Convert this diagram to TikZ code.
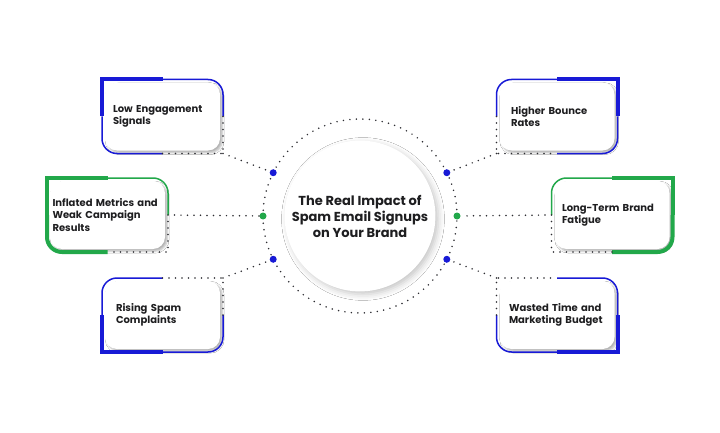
\documentclass[tikz,border=0pt]{standalone}
\usepackage{fontspec}
\setmainfont{Poppins}
\usepackage{tikz}
\usetikzlibrary{positioning,calc,shadows.blur}
\definecolor{brandblue}{RGB}{24,26,214}
\definecolor{brandgreen}{RGB}{34,168,74}
\definecolor{ink}{RGB}{30,30,32}
\definecolor{dotgrey}{RGB}{45,45,50}
\tikzset{
  card/.style={rectangle, rounded corners=12pt, fill=white,
    minimum width=115pt, minimum height=68pt, outer sep=3pt,
    inner xsep=4pt, align=left, text=ink,
    font=\bfseries\fontsize{10}{12.5}\selectfont,
    blur shadow={shadow xshift=2.2pt, shadow yshift=-2.2pt,
      shadow blur radius=2pt, shadow opacity=30}},
  thinrim/.style={line width=1.5pt, rounded corners=15pt},
  thickrim/.style={line width=4pt, line join=miter},
  thickround/.style={line width=4pt, rounded corners=15pt},
  dotline/.style={dotgrey, line width=1.7pt, line cap=round,
    dash pattern=on 0pt off 6.5pt},
  bluedot/.style={circle, fill=brandblue, inner sep=0pt, minimum size=7pt},
  greendot/.style={circle, fill=brandgreen, inner sep=0pt, minimum size=7pt},
}

\begin{document}
\begin{tikzpicture}[x=1pt, y=1pt]
  \fill[white] (0,0) rectangle (720,432);

  % Centre: the question
  \draw[dotline] (360,216) circle (97);
  \node[circle, fill=white, minimum size=144pt, align=center, text=ink,
        font=\bfseries\fontsize{13}{16}\selectfont,
        blur shadow={shadow xshift=3pt, shadow yshift=-3pt,
          shadow blur radius=6pt, shadow opacity=22}] (hub) at (360,216)
    {The Real Impact of\\Spam Email Signups\\on Your Brand};

  % Dots on the ring
  \node[bluedot] (d1) at ([shift={(153.5:97)}]hub.center) {};
  \node[greendot] (d2) at ([shift={(180:97)}]hub.center) {};
  \node[bluedot] (d3) at ([shift={(206.5:97)}]hub.center) {};
  \node[bluedot] (d4) at ([shift={(26.5:97)}]hub.center) {};
  \node[greendot] (d5) at ([shift={(0:97)}]hub.center) {};
  \node[bluedot] (d6) at ([shift={(-26.5:97)}]hub.center) {};

  % Left: three cards
  \node[card, text width=99pt] (low) at (162.5,315.5)
    {Low Engagement\\Signals};
  \node[card, text width=110pt, inner xsep=2pt] (inflated) at (107.5,217)
    {Inflated Metrics and\\Weak Campaign\\Results};
  \node[card, text width=93pt] (rising) at (162.5,117)
    {Rising Spam\\Complaints};

  % Right: three cards
  \node[card, text width=92pt] (bounce) at (557,315.5)
    {Higher Bounce\\Rates};
  \node[card, text width=100pt] (fatigue) at (612,217)
    {Long-Term Brand\\Fatigue};
  \node[card, text width=96pt] (wasted) at (557,117)
    {Wasted Time and\\Marketing Budget};

  % Rims
  \draw[thickrim, brandblue] (low.west) |- (low.north);
  \draw[thinrim, brandblue] (low.north) -| (low.east) (low.south) -| (low.west);
  \draw[thickrim, brandgreen] (inflated.west) |- (inflated.north);
  \draw[thickround, brandgreen] (inflated.south) -| (inflated.west);
  \draw[thinrim, brandgreen] (inflated.north) -| (inflated.east);
  \draw[thickrim, brandblue] (rising.south) -| (rising.west);
  \draw[thinrim, brandblue] (rising.west) |- (rising.north) (rising.east) |- (rising.south);
  \draw[thickrim, brandblue] (bounce.north) -| (bounce.east);
  \draw[thinrim, brandblue] (bounce.west) |- (bounce.north) (bounce.east) |- (bounce.south);
  \draw[thickrim, brandgreen] (fatigue.north) -| (fatigue.east);
  \draw[thickround, brandgreen] (fatigue.east) |- (fatigue.south);
  \draw[thinrim, brandgreen] (fatigue.west) |- (fatigue.north);
  \draw[thickrim, brandblue] (wasted.east) |- (wasted.south);
  \draw[thinrim, brandblue] (wasted.north) -| (wasted.east) (wasted.south) -| (wasted.west);

  % Dotted corners and links to the ring
  \draw[dotline] (low.east) |- (low.south) (low.south east) -- (d1);
  \draw[dotline] (inflated.east) |- (inflated.south) (inflated.east) -- (d2);
  \draw[dotline] (rising.east) |- (rising.north) (rising.north east) -- (d3);
  \draw[dotline] (bounce.west) |- (bounce.south) (bounce.south west) -- (d4);
  \draw[dotline] (fatigue.west) |- (fatigue.south) (fatigue.west) -- (d5);
  \draw[dotline] (wasted.west) |- (wasted.north) (wasted.north west) -- (d6);
\end{tikzpicture}
\end{document}
